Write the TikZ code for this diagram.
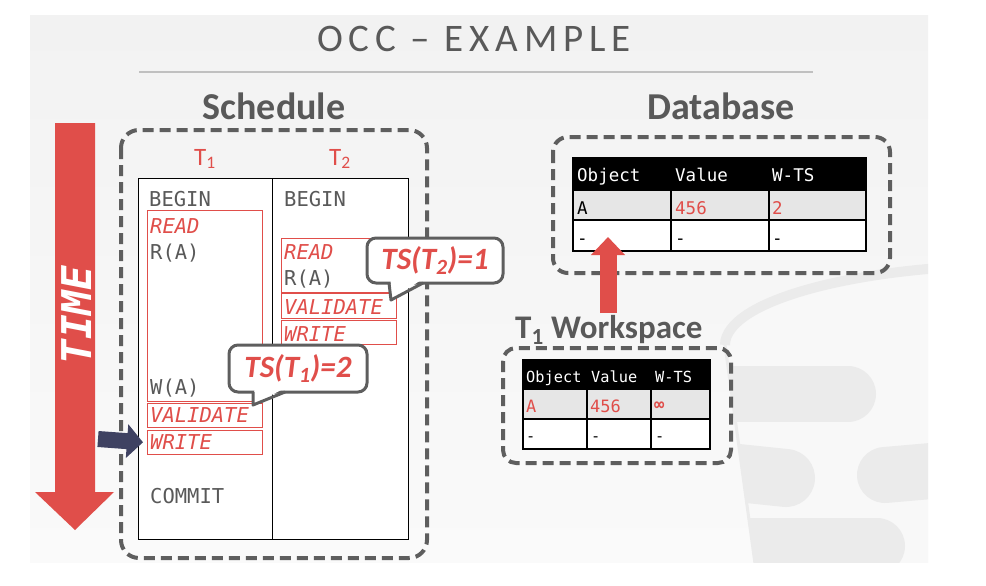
\documentclass[tikz,border=0pt]{standalone}
\usepackage{fontspec}
\setmainfont{Carlito}
\newfontfamily\titlefont{Carlito}[LetterSpace=15]
\newfontfamily\codefont{DejaVu Sans Mono}
\usetikzlibrary{arrows.meta}

\definecolor{occred}{HTML}{E04E4A}
\definecolor{occgray}{HTML}{5E5E5E}
\definecolor{occtext}{HTML}{595959}
\definecolor{occnavy}{HTML}{3F4262}
\definecolor{slidebg}{HTML}{F2F2F2}
\definecolor{slidebot}{HTML}{FAFAFA}
\definecolor{rowgray}{HTML}{E6E6E6}
\definecolor{logogray}{HTML}{EBEBEB}
\definecolor{logolight}{HTML}{F8F8F8}
\definecolor{rulegray}{HTML}{C0C0C0}

\begin{document}
\begin{tikzpicture}[x=1pt, y=-1pt,
	dashbox/.style={draw=occgray, line width=4pt, dash pattern=on 11pt off 6pt},
	codetext/.style={anchor=base west, inner sep=0pt, text=occtext, font=\codefont\fontsize{20.5}{24}\selectfont},
	phasetext/.style={anchor=base west, inner sep=0pt, text=occred, font=\codefont\itshape\fontsize{20.5}{24}\selectfont},
	phasebox/.style={draw=occred, line width=1.2pt, inner sep=0pt, anchor=north west},
	heading/.style={anchor=base, inner sep=0pt, text=occtext, font=\bfseries\fontsize{38}{40}\selectfont},
	txnlabel/.style={anchor=base, inner sep=0pt, text=occred, font=\fontsize{25}{28}\selectfont},
	bubble/.style={draw=occgray, line width=3pt, fill=white, rounded corners=9pt, inner sep=0pt, text=occred, font=\bfseries\itshape\fontsize{31}{34}\selectfont},
	dbhead/.style={anchor=base west, inner sep=0pt, text=white, font=\codefont\fontsize{17.5}{20}\selectfont},
	dbcell/.style={dbhead, text=black},
	dbval/.style={dbhead, text=occred},
	wshead/.style={anchor=base west, inner sep=0pt, text=white, font=\codefont\fontsize{15.3}{18}\selectfont},
	wscell/.style={wshead, text=black},
	wsval/.style={wshead, text=occred, font=\codefont\fontsize{17}{20}\selectfont}]
	%%%%% START %%%%%
	\useasboundingbox (0,0) rectangle (986,586);
	
	% slide and database logo
	\shade[top color=slidebg, bottom color=slidebot] (30,16) rectangle (928,562);
	\begin{scope}
		\clip (30,16) rectangle (928,562);
		\fill[logolight] (725,345) arc[start angle=180, end angle=270, x radius=295, y radius=80] -- (1100,265) -- (1100,600) -- (760,600) -- cycle;
		\begin{scope}
			\clip (725,345) -- (760,600) -- (1100,600) -- (1100,345) -- cycle;
			\draw[logogray, line width=56pt, line cap=round] (690,394) -- (848,394);
			\draw[logogray, line width=58pt, line cap=round] (690,468) -- (786,478);
			\draw[logogray, line width=56pt, line cap=round] (885,475) -- (1000,465);
			\draw[logogray, line width=56pt, line cap=round] (690,546) -- (877,546);
		\end{scope}
		\draw[logogray, line width=10pt] (725,345) arc[start angle=180, end angle=270, x radius=295, y radius=80];
		\draw[logogray, line width=3pt] (760,600) -- (725,345);
	\end{scope}
	
	% title
	\node[anchor=base, inner sep=0pt, text=occtext, font=\titlefont\fontsize{39}{40}\selectfont] (title) at (474,52) {OCC – EXAMPLE};
	\draw[rulegray, line width=2.5pt] (139,72) -- (813,72);
	
	\node[heading] (schedhead) at (274,120) {Schedule};
	\node[heading] (dbhead) at (721,120) {Database};
	
	% time arrow
	\fill[occred] (55,123) -- (95,123) -- (95,492) -- (114,492) -- (75,530) -- (35,492) -- (55,492) -- cycle;
	\node[rotate=90, inner sep=0pt, text=white, font=\codefont\bfseries\itshape\fontsize{41}{44}\selectfont] (time) at (77,315) {TIME};
	
	% schedule
	\draw[dashbox, rounded corners=18pt] (121,130) rectangle (427,558);
	\draw[line width=1pt, fill=white] (138,178) rectangle (408,539);
	\draw[line width=1pt] (272,178) -- (272,539);
	\node[txnlabel] (tone) at (205,165) {T\textsubscript{1}};
	\node[txnlabel] (ttwo) at (340,165) {T\textsubscript{2}};
	
	\node[phasebox, minimum width=115pt, minimum height=191pt] (t1read) at (147,210) {};
	\node[phasebox, minimum width=115pt, minimum height=24pt] (t1valid) at (147,403) {};
	\node[phasebox, minimum width=115pt, minimum height=24pt] (t1write) at (147,430) {};
	\node[phasebox, minimum width=115pt, minimum height=54pt] (t2read) at (281,238) {};
	\node[phasebox, minimum width=115pt, minimum height=25pt] (t2valid) at (281,293) {};
	\node[phasebox, minimum width=115pt, minimum height=24pt] (t2write) at (281,320) {};
	
	\node[codetext] (t1begin) at (149,206) {BEGIN};
	\node[phasetext] (t1readtxt) at (150,233) {READ};
	\node[codetext] (t1ra) at (150,259) {R(A)};
	\node[codetext] (t1wa) at (150,394) {W(A)};
	\node[phasetext] (t1validtxt) at (150,422) {VALIDATE};
	\node[phasetext] (t1writetxt) at (150,449) {WRITE};
	\node[codetext] (t1commit) at (150,503) {COMMIT};
	
	\node[codetext] (t2begin) at (284,206) {BEGIN};
	\node[phasetext] (t2readtxt) at (284,259) {READ};
	\node[codetext] (t2ra) at (284,285) {R(A)};
	\node[phasetext] (t2validtxt) at (284,314) {VALIDATE};
	\node[phasetext] (t2writetxt) at (284,341) {WRITE};
	
	% current step
	\coordinate (nowtail) at (98,439);
	\draw[occnavy, line width=16pt, -{Triangle[width=33pt, length=16pt]}, shorten >=4pt] (nowtail) -- (t1write.west);
	
	% timestamps
	\node[bubble, minimum width=136pt, minimum height=45pt] (tstwo) at (435,260.5) {TS(T\textsubscript{2})=1};
	\fill[white] (390.5,280) -- (391,300) -- (421,280) -- cycle;
	\draw[occgray, line width=3pt, line join=round] (389,283) -- (391,300) -- (423,283);
	
	\node[bubble, minimum width=138pt, minimum height=47pt] (tsone) at (298,368.5) {TS(T\textsubscript{1})=2};
	\fill[white] (254.5,389) -- (253,405) -- (283,389) -- cycle;
	\draw[occgray, line width=3pt, line join=round] (253,392) -- (253,405) -- (285,392);
	
	% database
	\draw[dashbox, rounded corners=15pt] (553,137) rectangle (890,273);
	\fill[black] (573,158) rectangle (866,190);
	\fill[rowgray] (573,190) rectangle (866,220);
	\fill[white] (573,220) rectangle (866,251);
	\draw[line width=1.5pt] (573,158) rectangle (866,251);
	\draw[line width=1.5pt] (573,190) -- (866,190) (573,220) -- (866,220) (671,190) -- (671,251) (769,190) -- (769,251);
	\foreach \x/\t in {577/Object,675/Value,772/W-TS}
		\node[dbhead] (dbh\x) at (\x,181) {\t};
	\node[dbcell] (dbobj) at (577,214) {A};
	\node[dbval] (dbvalue) at (675,214) {456};
	\node[dbval] (dbwts) at (772,214) {2};
	\foreach \x in {577,675,772}
		\node[dbcell] (dbe\x) at (\x,244) {-};
	
	% workspace
	\node[anchor=base west, inner sep=0pt, text=occtext, font=\bfseries\fontsize{33}{36}\selectfont] (wslabel) at (515,338) {T\textsubscript{1} Workspace};
	\draw[dashbox, rounded corners=13pt] (503,348) rectangle (731,463);
	\fill[black] (523,360) rectangle (710,389);
	\fill[rowgray] (523,389) rectangle (710,419);
	\fill[white] (523,419) rectangle (710,449);
	\draw[line width=1.5pt] (523,360) rectangle (710,449);
	\draw[line width=1.5pt] (523,389) -- (710,389) (523,419) -- (710,419) (587,389) -- (587,449) (651,389) -- (651,449);
	\foreach \x/\t in {526/Object,591/Value,655/W-TS}
		\node[wshead] (wsh\x) at (\x,382) {\t};
	\node[wsval] (wsobj) at (526,412) {A};
	\node[wsval] (wsvalue) at (590,412) {456};
	\node[wsval, font=\codefont\bfseries\fontsize{17}{20}\selectfont] (wswts) at (654,410) {∞};
	\foreach \x in {526,591,655}
		\node[wscell] (wse\x) at (\x,441) {-};
	
	% install
	\coordinate (wsup) at (608,313);
	\coordinate (dbtarget) at (608,237);
	\draw[occred, line width=17pt, -{Triangle[width=33pt, length=18pt]}] (wsup) -- (dbtarget);
	%%%%% END %%%%%
\end{tikzpicture}
\end{document}
